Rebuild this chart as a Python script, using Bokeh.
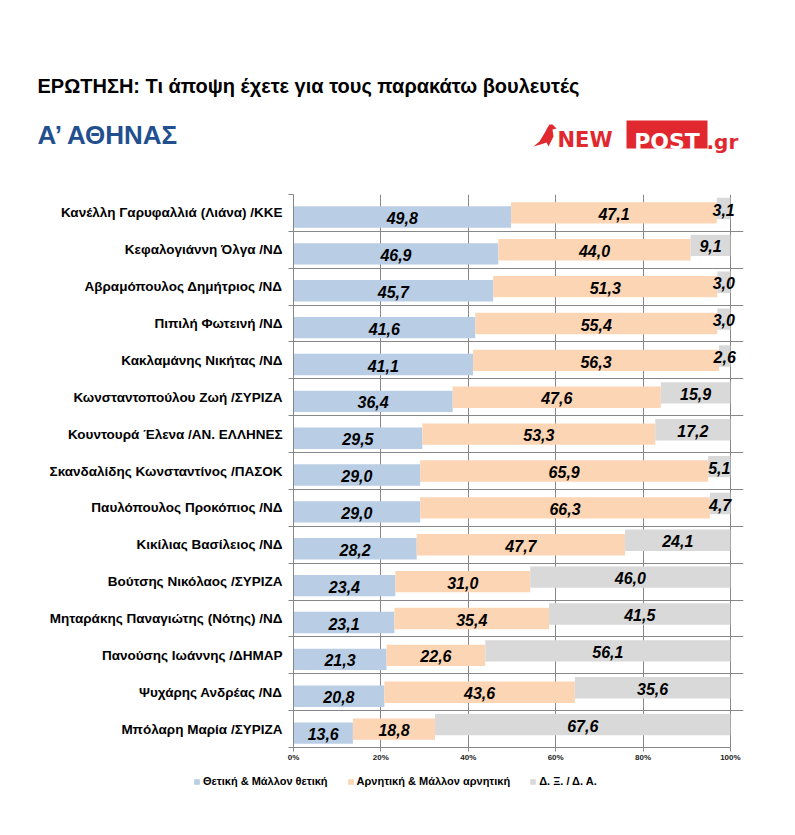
from bokeh.plotting import figure
from bokeh.models import (Range1d, FixedTicker, ColumnDataSource, LabelSet, Label,
                          Legend, LegendItem)
from bokeh.layouts import column
from bokeh.core.properties import value
from bokeh.transform import dodge
from bokeh.embed import file_html
from bokeh.resources import INLINE
import numpy as np

# ---------------- data ----------------
names = [
    "Κανέλλη Γαρυφαλλιά (Λιάνα) /ΚΚΕ",
    "Κεφαλογιάννη Όλγα /ΝΔ",
    "Αβραμόπουλος Δημήτριος /ΝΔ",
    "Πιπιλή Φωτεινή /ΝΔ",
    "Κακλαμάνης Νικήτας /ΝΔ",
    "Κωνσταντοπούλου Ζωή /ΣΥΡΙΖΑ",
    "Κουντουρά Έλενα /ΑΝ. ΕΛΛΗΝΕΣ",
    "Σκανδαλίδης Κωνσταντίνος /ΠΑΣΟΚ",
    "Παυλόπουλος Προκόπιος /ΝΔ",
    "Κικίλιας Βασίλειος /ΝΔ",
    "Βούτσης Νικόλαος /ΣΥΡΙΖΑ",
    "Μηταράκης Παναγιώτης (Νότης) /ΝΔ",
    "Πανούσης Ιωάννης /ΔΗΜΑΡ",
    "Ψυχάρης Ανδρέας /ΝΔ",
    "Μπόλαρη Μαρία /ΣΥΡΙΖΑ",
]
positive = [49.8, 46.9, 45.7, 41.6, 41.1, 36.4, 29.5, 29.0, 29.0, 28.2, 23.4, 23.1, 21.3, 20.8, 13.6]
negative = [47.1, 44.0, 51.3, 55.4, 56.3, 47.6, 53.3, 65.9, 66.3, 47.7, 31.0, 35.4, 22.6, 43.6, 18.8]
dkna = [3.1, 9.1, 3.0, 3.0, 2.6, 15.9, 17.2, 5.1, 4.7, 24.1, 46.0, 41.5, 56.1, 35.6, 67.6]
series_names = ["Θετική & Μάλλον θετική", "Αρνητική & Μάλλον αρνητική", "Δ. Ξ. / Δ. Α."]
x_ticks = [0, 20, 40, 60, 80, 100]
x_tick_labels = ["0%", "20%", "40%", "60%", "80%", "100%"]

title_text = "ΕΡΩΤΗΣΗ: Τι άποψη έχετε για τους παρακάτω βουλευτές"
subtitle_text = "Α’ ΑΘΗΝΑΣ"

colors = ["#B9CDE5", "#FCD5B5", "#D9D9D9"]
FONT = "Liberation Sans"
LOGO_FONT = "DejaVu Sans"
RED = "#E0282E"
GRID = "#878787"

W = 779
HH = 170  # header height


def bare(fig):
    fig.outline_line_color = None
    fig.background_fill_color = "white"
    fig.border_fill_color = "white"
    fig.frame_align = False
    return fig


# ---------------- header (title, subtitle, logo) ----------------
hdr = bare(figure(width=W, height=HH, output_backend="svg", toolbar_location=None,
                  x_range=Range1d(0, W), y_range=Range1d(HH, 0),
                  x_axis_type=None, y_axis_type=None, min_border=0))
hdr.add_layout(Label(x=37, y=85, text=title_text, text_font=FONT, text_font_size="20px",
                     text_font_style="bold", text_color="black", text_baseline="middle"))
hdr.add_layout(Label(x=37, y=134, text=subtitle_text, text_font=FONT, text_font_size="26px",
                     text_font_style="bold", text_color="#22508F", text_baseline="middle"))
# logo
bird_x = [533, 539, 542, 545, 547, 549, 552, 556, 552, 553, 550, 548, 546, 540]
bird_y = [146, 141, 136, 131, 127, 124, 124, 128, 129, 136, 142, 146, 142, 144]
hdr.patch(bird_x, bird_y, fill_color=RED, line_color=None)
hdr.add_layout(Label(x=557, y=139, text="NEW", text_font=LOGO_FONT, text_font_size="21px",
                     text_font_style="bold", text_color=RED, text_baseline="alphabetic"))
hdr.quad(left=[626], right=[707], top=[120], bottom=[148], fill_color=RED, line_color=None)
hdr.add_layout(Label(x=666.5, y=141, text="POST", text_font=LOGO_FONT, text_font_size="22px",
                     text_font_style="bold", text_color="white", text_align="center",
                     text_baseline="alphabetic"))
hdr.add_layout(Label(x=706, y=141, text=".gr", text_font=LOGO_FONT, text_font_size="20px",
                     text_font_style="bold", text_color=RED, text_baseline="alphabetic"))

# ---------------- main chart ----------------
n = len(names)
ypos = np.arange(n)[::-1].astype(float)  # first name at top
pos = np.array(positive)
neg = np.array(negative)
dk = np.array(dkna)
tot = pos + neg + dk  # 100% stacked: normalise each row
p_n, n_n, d_n = pos / tot * 100, neg / tot * 100, dk / tot * 100

def fmt(v):
    return f"{v:.1f}".replace(".", ",")

src = ColumnDataSource(dict(
    y=ypos,
    b_l=np.zeros(n), b_r=p_n,
    o_l=p_n, o_r=p_n + n_n,
    g_l=p_n + n_n, g_r=p_n + n_n + d_n,
    b_c=p_n / 2, o_c=p_n + n_n / 2, g_c=p_n + n_n + d_n / 2,
    b_t=[fmt(v) for v in pos], o_t=[fmt(v) for v in neg], g_t=[fmt(v) for v in dk],
))

ML, MT, MB = 293, 24, 20
PX_PER_UNIT = (730 - 293) / 100.0
XMAX = 103
frame_w = int(round(XMAX * PX_PER_UNIT))
MR = W - ML - frame_w
FRAME_H = 747 - 194
H = MT + FRAME_H + MB

p = bare(figure(width=W, height=H, output_backend="svg", toolbar_location=None,
                x_range=Range1d(0, XMAX), y_range=Range1d(-0.5, n - 0.5),
                min_border_left=ML, min_border_right=MR, min_border_top=MT, min_border_bottom=MB))

BH = 0.58
offs = [-0.11, 0.0, 0.12]
r_b = p.hbar(y=dodge("y", offs[0]), left="b_l", right="b_r", height=BH, source=src,
             fill_color=colors[0], line_color=None)
r_o = p.hbar(y=dodge("y", offs[1]), left="o_l", right="o_r", height=BH, source=src,
             fill_color=colors[1], line_color=None)
r_g = p.hbar(y=dodge("y", offs[2]), left="g_l", right="g_r", height=BH, source=src,
             fill_color=colors[2], line_color=None)

for c, t, off in (("b_c", "b_t", offs[0]), ("o_c", "o_t", offs[1]), ("g_c", "g_t", offs[2])):
    ls = LabelSet(x=c, y=dodge("y", off - 0.03), text=t, source=src,
                  text_font=value(FONT), text_font_size="16px", text_font_style="bold italic",
                  text_color="black", text_align="center", text_baseline="middle")
    p.add_layout(ls)

# axes
yax = p.yaxis[0]
yax.ticker = FixedTicker(ticks=list(ypos), minor_ticks=list(np.arange(n + 1) - 0.5))
yax.major_label_overrides = {float(y): nm for y, nm in zip(ypos, names)}
yax.major_label_text_font = FONT
yax.major_label_text_font_size = "13.5px"
yax.major_label_text_font_style = "bold"
yax.major_label_text_color = "black"
yax.major_label_standoff = 6
yax.major_tick_out = 0
yax.major_tick_in = 0
yax.minor_tick_out = 5
yax.minor_tick_in = 0
yax.minor_tick_line_color = GRID
yax.axis_line_color = GRID

xax = p.xaxis[0]
xax.bounds = (0, 100)
xax.ticker = FixedTicker(ticks=x_ticks, minor_ticks=[])
xax.major_label_overrides = {t: l for t, l in zip(x_ticks, x_tick_labels)}
xax.major_label_text_font = FONT
xax.major_label_text_font_size = "8px"
xax.major_label_text_font_style = "bold"
xax.major_label_text_color = "#222222"
xax.major_label_standoff = 1
xax.major_tick_out = 4
xax.major_tick_in = 0
xax.minor_tick_out = 0
xax.minor_tick_in = 0
xax.major_tick_line_color = GRID
xax.axis_line_color = GRID

p.xgrid.ticker = FixedTicker(ticks=x_ticks)
p.xgrid.grid_line_color = GRID
p.ygrid.ticker = FixedTicker(ticks=list(np.arange(n + 1) - 0.5))
p.ygrid.grid_line_color = GRID
p.ygrid.bounds = (0, 100)

# ---------------- footer (legend) ----------------
HF = 40
ftr = bare(figure(width=W, height=HF, output_backend="svg", toolbar_location=None,
                  x_range=Range1d(0, W), y_range=Range1d(0, HF),
                  x_axis_type=None, y_axis_type=None, min_border=0))
# legend swatches: off-canvas copies of the three series' styles
sw = [ftr.hbar(y=[-100], left=[0], right=[1], height=1, fill_color=c, line_color=None)
      for c in colors]
legend = Legend(items=[LegendItem(label=s, renderers=[r]) for s, r in zip(series_names, sw)],
                orientation="horizontal", location=(193, 20),
                glyph_width=7, glyph_height=7, label_standoff=3, spacing=19, padding=0, margin=0,
                label_text_font=FONT, label_text_font_size="11px", label_text_font_style="bold",
                label_text_color="black",
                border_line_alpha=0, background_fill_alpha=0)
ftr.add_layout(legend, "center")

layout = column(hdr, p, ftr, spacing=0)
open("out.html", "w").write(file_html(layout, INLINE))
